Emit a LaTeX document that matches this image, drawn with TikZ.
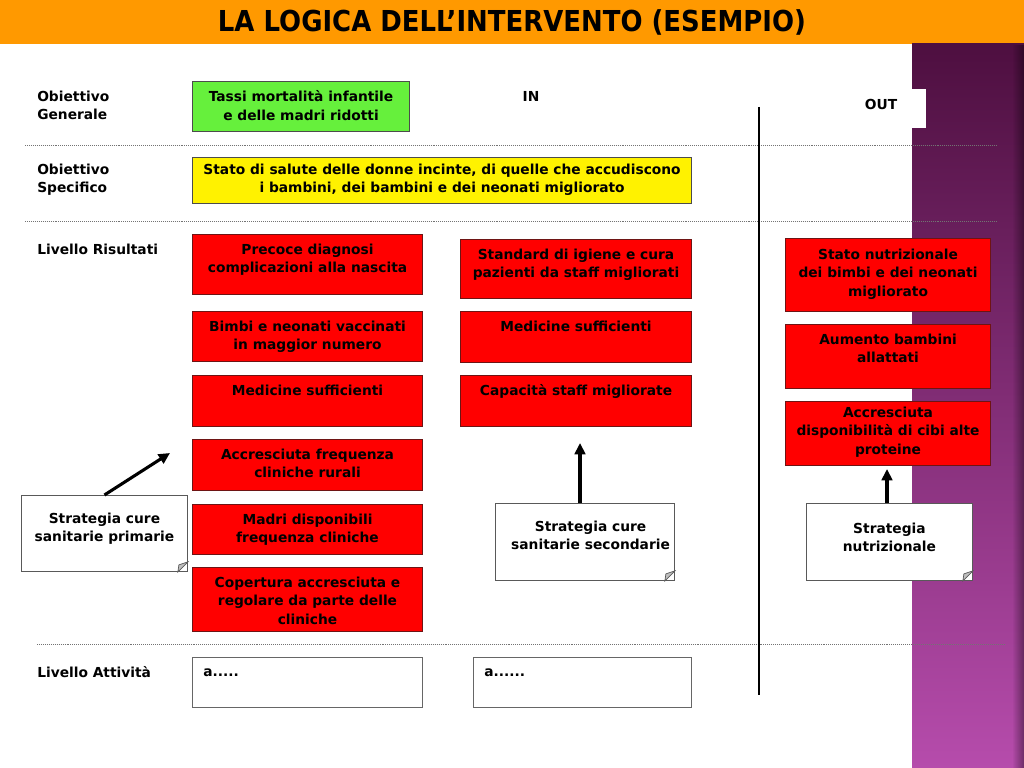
\documentclass[tikz,border=0pt]{standalone}
\usepackage{fontspec}
\setmainfont{DejaVu Sans}
\newfontfamily\titlefont[FakeStretch=0.9]{DejaVu Sans}
\usepackage{tikz}
\usetikzlibrary{arrows.meta, positioning, shapes.misc, calc, fadings}

\definecolor{titleorange}{RGB}{255,153,0}
\definecolor{plumtop}{RGB}{78,15,64}
\definecolor{plumbot}{RGB}{182,76,172}
\definecolor{goalgreen}{RGB}{102,240,60}
\definecolor{resred}{RGB}{255,0,0}
\definecolor{resedge}{RGB}{110,20,20}

\begin{document}
\begin{tikzpicture}[
    x=0.025cm, y=-0.025cm,
    >=Stealth,
    txt/.style={font=\bfseries\fontsize{9.8}{13.1}\selectfont, align=center, inner sep=0pt},
    lbl/.style={txt, align=left, anchor=north west},
    goalbox/.style={rectangle, draw=black!70, line width=0.7pt, anchor=north west, inner sep=0pt},
    resbox/.style={goalbox, draw=resedge, fill=resred},
    actbox/.style={goalbox, draw=black!60, fill=white},
    notebox/.style={chamfered rectangle, chamfered rectangle corners=south east, chamfered rectangle xsep=0.25cm, chamfered rectangle ysep=0.25cm, draw=black!65, line width=0.6pt, fill=white, anchor=north west, inner sep=0pt},
    fold/.style={draw=black!65, line width=0.5pt, fill=black!25},
    sep/.style={draw=black!55, line width=0.7pt, dash pattern=on 0.7pt off 0.7pt},
    arrow/.style={-{Triangle[length=8pt,width=7.5pt]}, line width=2.2pt, draw=black},
    intext/.style={label={[txt, anchor=north, yshift=-0.24cm]north:#1}}
]
\useasboundingbox (0,0) rectangle (1024,768);

% =============================================================
% Title bar and purple side panel
% =============================================================
\fill[titleorange] (0,0) rectangle (1024,44);
\node[font=\titlefont\bfseries\fontsize{20.5}{24}\selectfont] (title) at (512,22) {LA LOGICA DELL’INTERVENTO (ESEMPIO)};
\shade[top color=plumtop, bottom color=plumbot] (912,44) rectangle (1024,768);
\fill[black, fill opacity=0.4, path fading=west] (1012,44) rectangle (1024,768);

% Row separators and IN / OUT divider
\draw[sep] (25,145) -- (997,145);
\draw[sep] (25,221) -- (997,221);
\draw[sep] (37,644) -- (1005,644);
\draw[line width=0.8pt] (759,107) -- (759,695);

\node[txt] (in) at (531,96) {IN};
\node[fill=white, minimum width=1.9cm, minimum height=0.975cm, inner sep=0pt] (outbox) at (888,108.5) {};
\node[txt] (out) at (881,104) {OUT};

% =============================================================
% Row labels
% =============================================================
\node[lbl] (og) at (37,90.5) {Obiettivo\\Generale};
\node[lbl] (os) at (37,163.5) {Obiettivo\\Specifico};
\node[lbl] (lr) at (37,243.5) {Livello Risultati};
\node[lbl] (la) at (37,666.5) {Livello Attività};

% =============================================================
% Objectives
% =============================================================
\node[goalbox, fill=goalgreen, minimum width=5.425cm, minimum height=1.25cm, intext={Tassi mortalità infantile\\e delle madri ridotti}] (gen) at (192,81) {};
\node[goalbox, fill=yellow, minimum width=12.475cm, minimum height=1.15cm, label={[txt, anchor=north, yshift=-0.16cm]north:Stato di salute delle donne incinte, di quelle che accudiscono\\i bambini, dei bambini e dei neonati migliorato}] (spec) at (192,157) {};

% =============================================================
% Results: primary care column
% =============================================================
\node[resbox, minimum width=5.75cm, minimum height=1.5cm, intext={Precoce diagnosi\\complicazioni alla nascita}] (prec) at (192,234) {};
\node[resbox, minimum width=5.75cm, minimum height=1.25cm, intext={Bimbi e neonati vaccinati\\in maggior numero}] (vacc) at (192,311) {};
\node[resbox, minimum width=5.75cm, minimum height=1.275cm, intext={Medicine sufficienti}] (meda) at (192,375) {};
\node[resbox, minimum width=5.75cm, minimum height=1.275cm, intext={Accresciuta frequenza\\cliniche rurali}] (freq) at (192,439) {};
\node[resbox, minimum width=5.75cm, minimum height=1.25cm, intext={Madri disponibili\\frequenza cliniche}] (madri) at (192,504) {};
\node[resbox, minimum width=5.75cm, minimum height=1.6cm, intext={Copertura accresciuta e\\regolare da parte  delle\\cliniche}] (cop) at (192,567) {};

% Results: secondary care column
\node[resbox, minimum width=5.775cm, minimum height=1.475cm, intext={Standard di igiene e cura\\pazienti da staff migliorati}] (igiene) at (460,239) {};
\node[resbox, minimum width=5.775cm, minimum height=1.275cm, intext={Medicine sufficienti}] (medb) at (460,311) {};
\node[resbox, minimum width=5.775cm, minimum height=1.275cm, intext={Capacità staff migliorate}] (capac) at (460,375) {};

% Results: nutrition column (OUT)
\node[resbox, minimum width=5.125cm, minimum height=1.825cm, label={[txt, anchor=north, yshift=-0.2625cm]north:Stato nutrizionale\\dei bimbi e dei neonati\\migliorato}] (nutri) at (785,238) {};
\node[resbox, minimum width=5.125cm, minimum height=1.6cm, intext={Aumento bambini\\allattati}] (allatt) at (785,324) {};
\node[resbox, minimum width=5.125cm, minimum height=1.6cm, label={[txt, anchor=north, yshift=-0.14cm]north:Accresciuta\\disponibilità di cibi alte\\proteine}] (cibi) at (785,401) {};

% =============================================================
% Strategies (notes) and arrows
% =============================================================
\node[notebox, minimum width=4.15cm, minimum height=1.9cm, label={[txt, anchor=north, yshift=-0.4375cm]north:Strategia cure\\sanitarie primarie}] (pri) at (21,495) {};
\node[notebox, minimum width=4.475cm, minimum height=1.925cm, label={[txt, anchor=north, xshift=0.14cm, yshift=-0.4375cm]north:Strategia cure\\sanitarie secondarie}] (sec) at (495,503) {};
\node[notebox, minimum width=4.15cm, minimum height=1.925cm, label={[txt, anchor=north, yshift=-0.49cm]north:Strategia\\nutrizionale}] (nut) at (806,503) {};

\foreach \n in {pri, sec, nut}
  \draw[fold] ($(\n.east |- \n.south)+(0,-10)$) -- ++(-9,3) -- ++(-1,7) -- cycle;

\coordinate (tipa) at (170,453);
\coordinate (tipb) at (580,443);
\coordinate (tipc) at (887,469);
\draw[arrow] (pri.north) -- (tipa);
\draw[arrow] (sec.north -| tipb) -- (tipb);
\draw[arrow] (nut.north -| tipc) -- (tipc);

% =============================================================
% Activities
% =============================================================
\node[actbox, minimum width=5.75cm, minimum height=1.25cm, label={[txt, anchor=north west, xshift=0.275cm, yshift=-0.285cm]north west:a.....}] (acta) at (192,657) {};
\node[actbox, minimum width=5.45cm, minimum height=1.25cm, label={[txt, anchor=north west, xshift=0.275cm, yshift=-0.285cm]north west:a......}] (actb) at (473,657) {};

\end{tikzpicture}
\end{document}
